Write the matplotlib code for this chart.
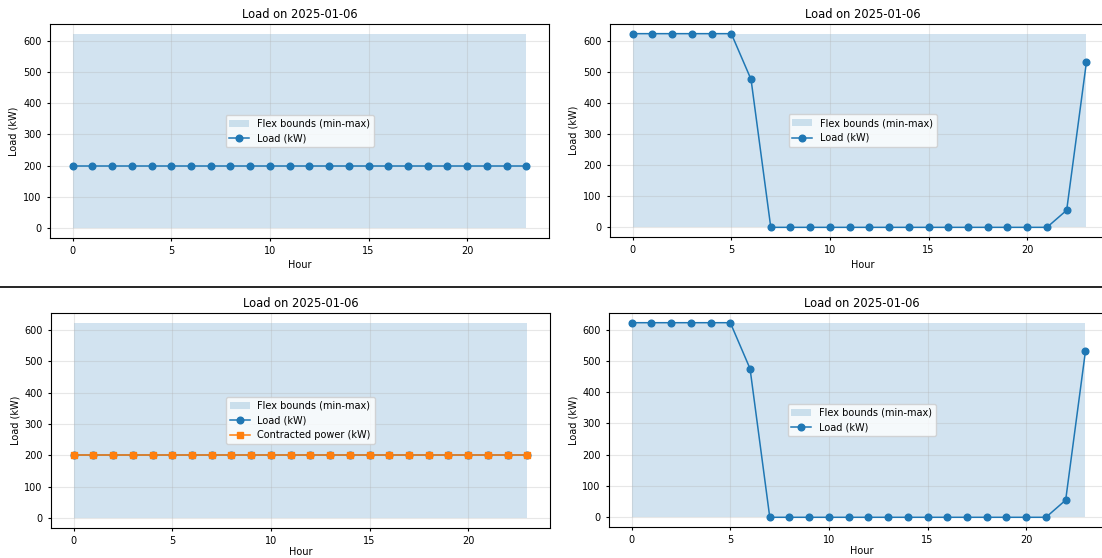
import matplotlib
matplotlib.use("Agg")
import matplotlib.pyplot as plt
from matplotlib.lines import Line2D

hours = list(range(24))
flex_min = [0] * 24
flex_max = [622] * 24
load_flat = [200] * 24
load_shaped = [622, 622, 622, 622, 622, 622, 475, 0, 0, 0, 0, 0, 0, 0,
               0, 0, 0, 0, 0, 0, 0, 0, 55, 530]
contracted = [200] * 24
title = "Load on 2025-01-06"

plt.rcParams.update({
    "font.size": 7,
    "axes.titlesize": 8.3,
    "axes.labelsize": 7,
    "xtick.labelsize": 7,
    "ytick.labelsize": 7,
    "legend.fontsize": 7,
    "xtick.major.size": 2.5,
    "ytick.major.size": 2.5,
})

W, H = 1102, 558
fig = plt.figure(figsize=(W / 100, H / 100), dpi=100)


def make_ax(left, top, width, height):
    return fig.add_axes([left / W, 1 - (top + height) / H, width / W, height / H])


def draw(ax, load, contract=None, xpad=3):
    ax.fill_between(hours, flex_min, flex_max, color="tab:blue", alpha=0.2,
                    linewidth=0, label="Flex bounds (min-max)")
    ax.plot(hours, load, marker="o", color="tab:blue", linewidth=1.1,
            markersize=4.8, label="Load (kW)")
    if contract is not None:
        ax.plot(hours, contract, marker="s", color="tab:orange", linewidth=1.1,
                markersize=4.8, label="Contracted power (kW)")
    ax.set_title(title, pad=4)
    ax.set_xlabel("Hour", labelpad=xpad)
    ax.set_ylabel("Load (kW)", labelpad=3)
    ax.grid(True, alpha=0.3)
    ax.set_xlim(-1.15, 24.15)
    ax.set_ylim(-31, 653)
    ax.set_xticks([0, 5, 10, 15, 20])
    ax.set_yticks([0, 100, 200, 300, 400, 500, 600])
    ax.legend(loc="center")


ax1 = make_ax(50, 24, 499, 214)
draw(ax1, load_flat)
ax2 = make_ax(610, 24, 505, 213)
draw(ax2, load_shaped)
ax3 = make_ax(51, 313, 499, 215)
draw(ax3, load_flat, contracted, xpad=0.5)
ax4 = make_ax(609, 313, 505, 214)
draw(ax4, load_shaped, xpad=0.5)
for ax in (ax2, ax4):
    ax.set_xlim(-1.15, 24.45)

# separator between the stacked screenshots
fig.add_artist(Line2D([0, 1], [1 - 286.5 / H, 1 - 286.5 / H], color="black",
                      linewidth=1.2, transform=fig.transFigure))

fig.savefig("out.png", dpi=100)
